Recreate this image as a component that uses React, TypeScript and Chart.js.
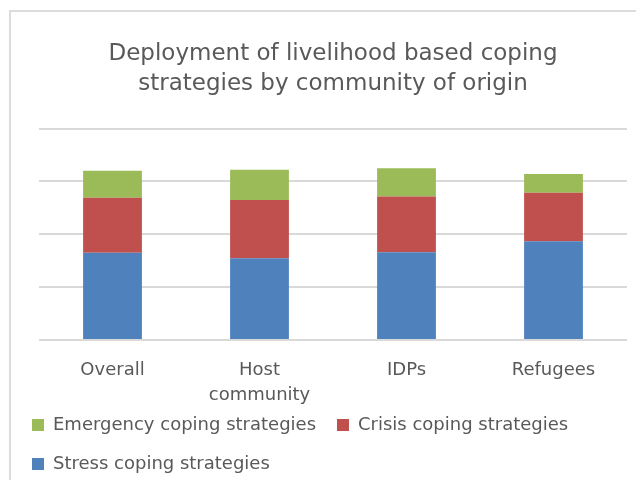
import React, { useEffect, useRef } from "react";
import { Chart, registerables } from "chart.js";

Chart.register(...registerables);

const categories: (string | string[])[] = ["Overall", ["Host", "community"], "IDPs", "Refugees"];
const stressValues = [41.3, 38.6, 41.5, 46.7];
const crisisValues = [26.0, 27.6, 26.3, 22.9];
const emergencyValues = [12.7, 14.3, 13.4, 8.9];
const titleLines = ["Deployment of livelihood based coping", "strategies by community of origin"];

const TEXT = "#595959";
const FONT = "'DejaVu Sans', Verdana, sans-serif";

// centre the title over the plot area and pull the legend up under the axis labels
const layoutTweaks = {
  id: "layoutTweaks",
  afterLayout(chart: any) {
    const tb = chart.titleBlock;
    if (tb) {
      tb.left = chart.chartArea.left;
      tb.right = chart.chartArea.right;
    }
    const lg = chart.legend;
    if (lg) {
      lg.top -= 12.5;
      lg.bottom -= 12.5;
    }
  },
};

export default function App() {
  const ref = useRef<HTMLCanvasElement | null>(null);
  useEffect(() => {
    if (!ref.current) return;
    const chart = new Chart(ref.current, {
      type: "bar",
      data: {
        labels: categories as any,
        datasets: [
          { label: "Stress coping strategies", data: stressValues, backgroundColor: "#4f81bd" },
          { label: "Crisis coping strategies", data: crisisValues, backgroundColor: "#c0504d" },
          { label: "Emergency coping strategies", data: emergencyValues, backgroundColor: "#9bbb59" },
        ],
      },
      plugins: [layoutTweaks],
      options: {
        responsive: false,
        maintainAspectRatio: false,
        animation: false,
        datasets: { bar: { barPercentage: 0.4, categoryPercentage: 1 } },
        layout: { padding: { left: 0, right: 9, top: 0, bottom: 0.5 } },
        plugins: {
          tooltip: { enabled: false },
          title: {
            display: true,
            text: titleLines,
            color: TEXT,
            font: { family: FONT, size: 23, weight: "normal", lineHeight: 30 / 23 },
            padding: { top: 27, bottom: 29.5 },
          },
          legend: {
            position: "bottom",
            align: "start",
            reverse: true,
            labels: {
              color: TEXT,
              font: { family: FONT, size: 18 },
              boxWidth: 12,
              boxHeight: 12,
              padding: 21,
            },
          },
        },
        scales: {
          x: {
            stacked: true,
            grid: { display: false, drawTicks: false },
            border: { display: false },
            ticks: {
              color: TEXT,
              font: { family: FONT, size: 18, lineHeight: 25 / 18 },
              padding: 17.5,
              maxRotation: 0,
              autoSkip: false,
            },
            afterFit(scale: any) {
              scale.height = 67.5;
            },
          },
          y: {
            stacked: true,
            min: 0,
            max: 100,
            ticks: { display: false, stepSize: 25 },
            grid: { color: "#d9d9d9", lineWidth: 2, drawTicks: false },
            border: { display: false },
            afterFit(scale: any) {
              scale.width = 28;
            },
          },
        },
      },
    });
    return () => chart.destroy();
  }, []);

  return (
    <div
      style={{
        marginTop: 2,
        marginLeft: 1,
        width: 625,
        height: 468,
        borderTop: "2px solid #dcdcdc",
        borderLeft: "2px solid #dcdcdc",
        overflow: "hidden",
        background: "#ffffff",
      }}
    >
      <canvas ref={ref} width={625} height={484} style={{ display: "block" }} />
    </div>
  );
}
